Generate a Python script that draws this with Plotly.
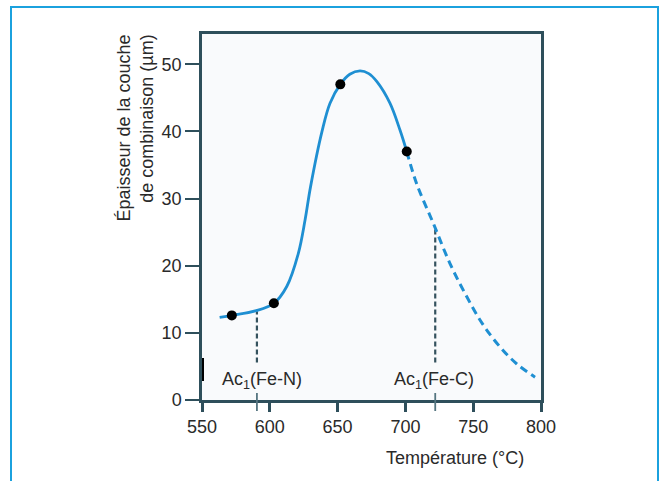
import plotly.graph_objects as go

# --- data ---
solid_T = [563, 572, 590, 603, 612.5, 621, 626, 630, 638.5, 644.4, 652, 659, 666.5, 673, 679, 688.6, 696, 701]
solid_v = [12.3, 12.6, 13.3, 14.4, 16.9, 21.8, 26.8, 31.7, 40, 44.2, 47, 48.5, 49, 48.6, 47.4, 44.2, 40.2, 37]
dash_T = [701, 708.3, 720.6, 732.9, 745.2, 757, 769.8, 782, 795.6]
dash_v = [37, 32.2, 26.3, 20.3, 15.4, 11.3, 7.9, 5.4, 3.4]
meas_T = [572, 603, 652, 701]
meas_v = [12.6, 14.4, 47, 37]
ac_T = [590.5, 722]
ac_top = [13.2, 25.5]
ac_bottom = [5.6, 5.6]
ac_labels = ["Ac<sub>1</sub>(Fe-N)", "Ac<sub>1</sub>(Fe-C)"]
ac_label_T = [594.6, 721]
x_ticks = [550, 600, 650, 700, 750, 800]
y_ticks = [0, 10, 20, 30, 40, 50]

BLUE = "#1f8fd2"
AXIS = "#2e4f5b"
TXT = "#2a2a2a"
FONT = "Arial, Liberation Sans, sans-serif"

fig = go.Figure()

# vertical dashed Ac1 lines
for t, top, bot in zip(ac_T, ac_top, ac_bottom):
    fig.add_trace(go.Scatter(x=[t, t], y=[bot, top], mode="lines",
                             line=dict(color="#35525e", width=2.2, dash="5px,3px"),
                             hoverinfo="skip", showlegend=False))

fig.add_trace(go.Scatter(x=solid_T, y=solid_v, mode="lines",
                         line=dict(color=BLUE, width=2.8, shape="spline", smoothing=1.0),
                         showlegend=False))
fig.add_trace(go.Scatter(x=dash_T, y=dash_v, mode="lines",
                         line=dict(color=BLUE, width=3, shape="spline", smoothing=1.0, dash="8px,5px"),
                         showlegend=False))
fig.add_trace(go.Scatter(x=meas_T, y=meas_v, mode="markers",
                         marker=dict(color="black", size=10),
                         showlegend=False))

annotations = []
for lab, t in zip(ac_labels, ac_label_T):
    annotations.append(dict(x=t, y=2.9, xref="x", yref="y", text=lab, showarrow=False,
                            xanchor="center", yanchor="middle",
                            font=dict(family=FONT, size=18, color=TXT)))

# axis titles (pixel positions converted to paper coords)
px_x = lambda p: (p - 202) / 339.0
px_y = lambda p: (400 - p) / 366.0
annotations.append(dict(x=px_x(135), y=px_y(33), xref="paper", yref="paper",
                        text="Épaisseur de la couche<br>de combinaison (µm)",
                        textangle=-90, align="right", showarrow=False,
                        xanchor="center", yanchor="top",
                        font=dict(family=FONT, size=18, color=TXT)))
annotations.append(dict(x=px_x(455), y=px_y(458), xref="paper", yref="paper",
                        text="Température (°C)", showarrow=False,
                        xanchor="center", yanchor="middle",
                        font=dict(family=FONT, size=18, color=TXT)))

shapes = []
# small ticks at Ac1 temperatures on x axis
for t in ac_T:
    shapes.append(dict(type="line", xref="x", yref="paper", x0=t, x1=t,
                       y0=px_y(393), y1=px_y(411), line=dict(color="#557580", width=1.8)))
# little black mark on the left
shapes.append(dict(type="line", xref="paper", yref="paper", x0=px_x(203), x1=px_x(203),
                   y0=px_y(358), y1=px_y(381), line=dict(color="black", width=2)))
# outer blue frame
shapes.append(dict(type="path", xref="paper", yref="paper",
                   path=f"M {px_x(11)} {px_y(490)} L {px_x(11)} {px_y(7)} L {px_x(658)} {px_y(7)} L {px_x(658)} {px_y(490)}",
                   line=dict(color="#1ba1de", width=2)))

fig.update_layout(
    width=666, height=481,
    margin=dict(l=202, r=125, t=34, b=81),
    paper_bgcolor="white", plot_bgcolor="#f9fafc",
    font=dict(family=FONT, size=18, color=TXT),
    annotations=annotations, shapes=shapes,
    showlegend=False,
)
fig.update_xaxes(range=[550, 800], tickvals=x_ticks, showgrid=False, zeroline=False,
                 showline=True, mirror=True, linecolor=AXIS, linewidth=2.5,
                 ticks="outside", ticklen=9, tickwidth=2.5, tickcolor=AXIS,
                 tickfont=dict(family=FONT, size=18, color=TXT))
fig.update_yaxes(range=[0, 54.5], tickvals=y_ticks, showgrid=False, zeroline=False,
                 showline=True, mirror=True, linecolor=AXIS, linewidth=2.5,
                 ticks="outside", ticklen=14, tickwidth=2, tickcolor=AXIS,
                 tickfont=dict(family=FONT, size=18, color=TXT))

fig.write_html("out.html")
